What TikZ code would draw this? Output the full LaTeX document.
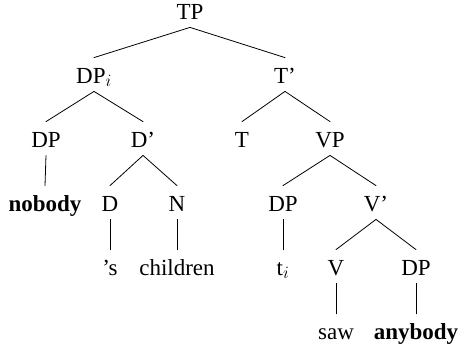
\documentclass[tikz,border=0pt]{standalone}
\usepackage{fontspec}
\setmainfont{Liberation Serif}
\begin{document}
\begin{tikzpicture}[x=1pt, y=-1pt, font=\fontsize{23}{27}\selectfont, line join=round, line cap=round, line width=0.8pt]
\tikzset{lab/.style={anchor=base, inner sep=0pt, text height=25pt, text depth=8pt}}
\def\ya{19} \def\yb{83} \def\yc{147} \def\yd{211} \def\ye{275} \def\yf{339}
\useasboundingbox (0,0) rectangle (458,349);
\node[lab] (TP) at (190,\ya) {TP};
\node[lab] (DPi) at (94,\yb) {DP$_i$};
\node[lab] (Tbar) at (285,\yb) {T'};
\node[lab] (DPa) at (46,\yc) {DP};
\node[lab] (Dbar) at (143,\yc) {D'};
\node[lab] (T) at (242,\yc) {T};
\node[lab] (VP) at (330,\yc) {VP};
\node[lab] (nobody) at (45,\yd) {\textbf{nobody}};
\node[lab] (D) at (110,\yd) {D};
\node[lab] (N) at (177,\yd) {N};
\node[lab] (DPb) at (283,\yd) {DP};
\node[lab] (Vbar) at (376,\yd) {V'};
\node[lab] (s) at (110,\ye) {'s};
\node[lab] (children) at (177,\ye) {children};
\node[lab] (ti) at (283,\ye) {t$_i$};
\node[lab] (V) at (336,\ye) {V};
\node[lab] (DPc) at (416,\ye) {DP};
\node[lab] (saw) at (336,\yf) {saw};
\node[lab] (anybody) at (416,\yf) {\textbf{anybody}};
\draw (TP.south) -- (DPi.north); \draw (TP.south) -- (Tbar.north);
\draw (DPi.south) -- (DPa.north); \draw (DPi.south) -- (Dbar.north);
\draw (Tbar.south) -- (T.north); \draw (Tbar.south) -- (VP.north);
\draw (DPa.south) -- (nobody.north);
\draw (Dbar.south) -- (D.north); \draw (Dbar.south) -- (N.north);
\draw (VP.south) -- (DPb.north); \draw (VP.south) -- (Vbar.north);
\draw (D.south) -- (s.north); \draw (N.south) -- (children.north);
\draw (DPb.south) -- (ti.north);
\draw (Vbar.south) -- (V.north); \draw (Vbar.south) -- (DPc.north);
\draw (V.south) -- (saw.north); \draw (DPc.south) -- (anybody.north);
\end{tikzpicture}
\end{document}
